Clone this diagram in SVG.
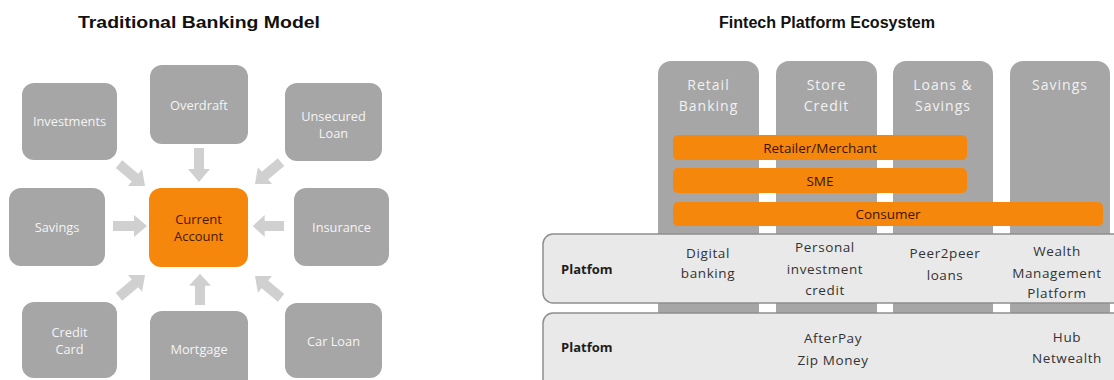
<svg xmlns="http://www.w3.org/2000/svg" xmlns:xlink="http://www.w3.org/1999/xlink" width="1114" height="380" viewBox="0 0 1114 380">
  <style>
    .title { font-family: "Liberation Sans", Arial, sans-serif; font-weight: bold; font-size: 16px; fill: #111; text-anchor: middle; }
    .gbox { fill: #a6a6a6; }
    .obox { fill: #f5870c; }
    .gtxt { font-family: "Open Sans", "Liberation Sans", sans-serif; font-size: 12.8px; fill: #f4f4f4; text-anchor: middle; }
    .otxt { font-family: "Open Sans", "Liberation Sans", sans-serif; font-size: 13px; fill: #4a1800; text-anchor: middle; }
    .arrow { fill: #d0d0d0; }
    .col { fill: #a6a6a6; }
    .coltxt { font-family: "Open Sans", "Liberation Sans", sans-serif; font-size: 14px; fill: #f2f2f2; text-anchor: middle; letter-spacing: 1px; }
    .bar { fill: #f5870c; }
    .bartxt { font-family: "Open Sans", "Liberation Sans", sans-serif; font-size: 13.5px; fill: #3d1400; text-anchor: middle; }
    .plat { fill: #e9e9e9; stroke: #8e8e8e; stroke-width: 1.5; }
    .plabel { font-family: "Open Sans", "Liberation Sans", sans-serif; font-weight: bold; font-size: 13px; fill: #1e1e1e; }
    .ptxt { font-family: "Open Sans", "Liberation Sans", sans-serif; font-size: 13.5px; fill: #333; text-anchor: middle; letter-spacing: 0.6px; }
  </style>
  <defs>
    <!-- block arrow pointing along +x, tip at x=34 -->
    <path id="blk" d="M0,-5 H21 V-11 L34,0 L21,11 V5 H0 Z"/>
  </defs>

  <rect width="1114" height="380" fill="#ffffff"/>

  <!-- Titles -->
  <text class="title" x="199" y="28" textLength="242" lengthAdjust="spacingAndGlyphs">Traditional Banking Model</text>
  <text class="title" x="827" y="28" textLength="216" lengthAdjust="spacingAndGlyphs">Fintech Platform Ecosystem</text>

  <!-- Left: connectors into the current account -->
  <g id="connectors" class="arrow">
    <use xlink:href="#blk" transform="translate(199,182) rotate(90) translate(-34,0)"/>
    <use xlink:href="#blk" transform="translate(200,274) rotate(-90) translate(-31,0) scale(0.92,1)"/>
    <use xlink:href="#blk" transform="translate(147,226) translate(-34,0)"/>
    <use xlink:href="#blk" transform="translate(253,226) rotate(180) translate(-31,0) scale(0.92,1)"/>
    <use xlink:href="#blk" transform="translate(145,186) rotate(40) translate(-34,0)"/>
    <use xlink:href="#blk" transform="translate(255,184) rotate(140) translate(-34,0)"/>
    <use xlink:href="#blk" transform="translate(145,275) rotate(-40) translate(-34,0)"/>
    <use xlink:href="#blk" transform="translate(255,276) rotate(-140) translate(-34,0)"/>
  </g>

  <!-- Left: product nodes -->
  <g id="investments"><rect class="gbox" x="22" y="83" width="95" height="77" rx="12"/><text class="gtxt" x="69.5" y="126">Investments</text></g>
  <g id="overdraft"><rect class="gbox" x="150" y="65" width="98" height="79" rx="12"/><text class="gtxt" x="199" y="110">Overdraft</text></g>
  <g id="unsecured-loan"><rect class="gbox" x="285" y="83" width="97" height="78" rx="12"/><text class="gtxt" x="333.5" y="121">Unsecured</text><text class="gtxt" x="333.5" y="138">Loan</text></g>
  <g id="savings"><rect class="gbox" x="9" y="188" width="96" height="78" rx="12"/><text class="gtxt" x="57" y="232">Savings</text></g>
  <g id="current-account"><rect class="obox" x="149" y="188" width="99" height="79" rx="12"/><text class="otxt" x="198.5" y="224">Current</text><text class="otxt" x="198.5" y="241">Account</text></g>
  <g id="insurance"><rect class="gbox" x="294" y="188" width="95" height="78" rx="12"/><text class="gtxt" x="341.5" y="232">Insurance</text></g>
  <g id="credit-card"><rect class="gbox" x="22" y="302" width="95" height="76" rx="12"/><text class="gtxt" x="69.5" y="337">Credit</text><text class="gtxt" x="69.5" y="354">Card</text></g>
  <g id="mortgage"><rect class="gbox" x="150" y="311" width="98" height="80" rx="12"/><text class="gtxt" x="199" y="354">Mortgage</text></g>
  <g id="car-loan"><rect class="gbox" x="285" y="303" width="97" height="75" rx="12"/><text class="gtxt" x="333.5" y="346">Car Loan</text></g>

  <!-- Right: product columns -->
  <g id="col-retail"><rect class="col" x="658" y="61" width="101" height="330" rx="13"/><text class="coltxt" x="708.5" y="90">Retail</text><text class="coltxt" x="708.5" y="111">Banking</text></g>
  <g id="col-store"><rect class="col" x="776" y="61" width="101" height="330" rx="13"/><text class="coltxt" x="826.5" y="90">Store</text><text class="coltxt" x="826.5" y="111">Credit</text></g>
  <g id="col-loans"><rect class="col" x="893" y="61" width="100" height="330" rx="13"/><text class="coltxt" x="943" y="90">Loans &amp;</text><text class="coltxt" x="943" y="111">Savings</text></g>
  <g id="col-savings"><rect class="col" x="1010" y="61" width="100" height="330" rx="13"/><text class="coltxt" x="1060" y="90">Savings</text></g>

  <!-- Right: customer segment bars -->
  <g id="bar-retailer"><rect class="bar" x="673" y="135" width="294" height="25" rx="5"/><text class="bartxt" x="820" y="152.5">Retailer/Merchant</text></g>
  <g id="bar-sme"><rect class="bar" x="673" y="168" width="294" height="25" rx="5"/><text class="bartxt" x="820" y="185.5">SME</text></g>
  <g id="bar-consumer"><rect class="bar" x="673" y="202" width="430" height="24" rx="5"/><text class="bartxt" x="888" y="219">Consumer</text></g>

  <!-- Right: platform rows -->
  <g id="platform-1">
    <rect class="plat" x="543" y="234" width="590" height="69" rx="10"/>
    <text class="plabel" x="561" y="274">Platfom</text>
    <text class="ptxt" x="708" y="258">Digital</text>
    <text class="ptxt" x="708" y="278">banking</text>
    <text class="ptxt" x="825" y="252">Personal</text>
    <text class="ptxt" x="825" y="274">investment</text>
    <text class="ptxt" x="825" y="295">credit</text>
    <text class="ptxt" x="945" y="258">Peer2peer</text>
    <text class="ptxt" x="945" y="280">loans</text>
    <text class="ptxt" x="1057" y="256">Wealth</text>
    <text class="ptxt" x="1057" y="278">Management</text>
    <text class="ptxt" x="1057" y="298">Platform</text>
  </g>
  <g id="platform-2">
    <rect class="plat" x="543" y="313" width="590" height="90" rx="10"/>
    <text class="plabel" x="561" y="352">Platfom</text>
    <text class="ptxt" x="833" y="343">AfterPay</text>
    <text class="ptxt" x="833" y="365">Zip Money</text>
    <text class="ptxt" x="1067" y="342">Hub</text>
    <text class="ptxt" x="1067" y="363">Netwealth</text>
  </g>
</svg>
